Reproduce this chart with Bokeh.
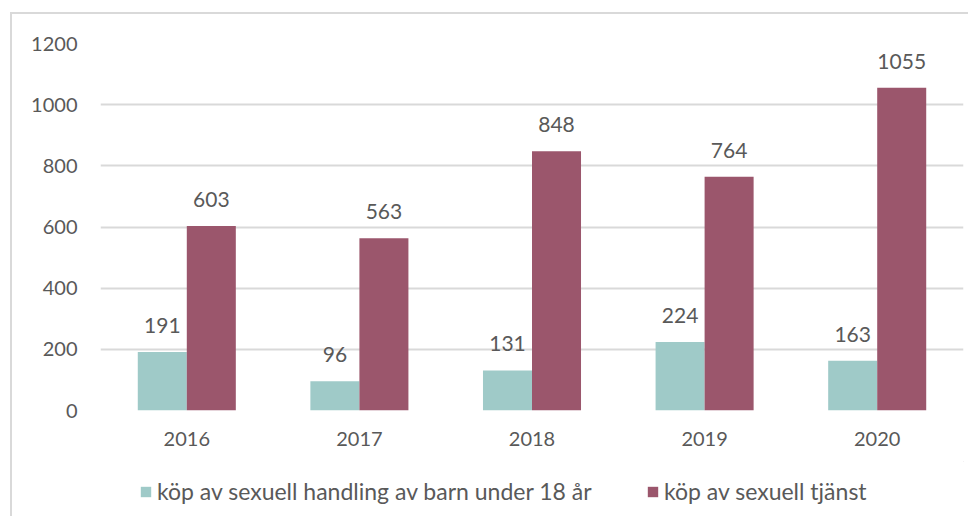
from bokeh.plotting import figure
from bokeh.models import ColumnDataSource, FactorRange, LabelSet, Legend, LegendItem, Range1d
from bokeh.core.properties import value
from bokeh.layouts import column
from bokeh.transform import dodge
from bokeh.embed import file_html
from bokeh.resources import INLINE

years = ["2016", "2017", "2018", "2019", "2020"]
barn = [191, 96, 131, 224, 163]
tjanst = [603, 563, 848, 764, 1055]
series_names = ["köp av sexuell handling av barn under 18 år", "köp av sexuell tjänst"]
y_ticks = [0, 200, 400, 600, 800, 1000, 1200]

TEAL = "#9fcac8"
MAROON = "#9b566c"
TXT = "#595959"
FONT = "Lato"

src = ColumnDataSource(data=dict(year=years, barn=barn, tjanst=tjanst,
                                 barn_lbl=[str(v) for v in barn],
                                 tjanst_lbl=[str(v) for v in tjanst]))

p = figure(x_range=FactorRange(*years), y_range=Range1d(0, 1200),
           width=956, height=447, output_backend="svg", toolbar_location=None,
           min_border_left=88, min_border_right=5, min_border_top=29, min_border_bottom=51)

p.vbar(x=dodge("year", -0.142, range=p.x_range), top="barn", width=0.284,
       source=src, fill_color=TEAL, line_color=None)
p.vbar(x=dodge("year", 0.142, range=p.x_range), top="tjanst", width=0.284,
       source=src, fill_color=MAROON, line_color=None)

for col, off in (("barn", -0.142), ("tjanst", 0.142)):
    p.add_layout(LabelSet(x=dodge("year", off, range=p.x_range), y=col, text=col + "_lbl",
                          source=src, y_offset=19, text_align="center", text_baseline="bottom",
                          text_font=value(FONT), text_font_size="21px", text_color=TXT))

p.yaxis.ticker = y_ticks
p.ygrid.ticker = y_ticks
p.xgrid.grid_line_color = None
p.ygrid.grid_line_color = "#d9d9d9"
p.ygrid.grid_line_width = 2
p.outline_line_color = None

for ax in (p.xaxis, p.yaxis):
    ax.axis_line_color = None
    ax.major_tick_line_color = None
    ax.minor_tick_line_color = None
    ax.major_label_text_font = FONT
    ax.major_label_text_font_size = "20px"
    ax.major_label_text_color = TXT
p.yaxis.major_label_standoff = 17
p.xaxis.major_label_standoff = 15

# legend row below the chart (its frame is aligned with the chart's frame)
pl = figure(width=956, height=55, output_backend="svg", toolbar_location=None,
            x_range=Range1d(0, 1), y_range=Range1d(0, 1),
            x_axis_location=None, y_axis_location=None,
            min_border_left=0, min_border_right=0, min_border_top=0, min_border_bottom=0)
pl.grid.grid_line_color = None
pl.outline_line_color = None
hidden = ColumnDataSource(data=dict(x=[5], top=[5], bottom=[4]))
g1 = pl.vbar(x="x", top="top", bottom="bottom", width=0.1, source=hidden, fill_color=TEAL, line_color=None)
g2 = pl.vbar(x="x", top="top", bottom="bottom", width=0.1, source=hidden, fill_color=MAROON, line_color=None)
for name, g, loc in ((series_names[0], g1, (39, 11)), (series_names[1], g2, (546, 11))):
    pl.add_layout(Legend(items=[LegendItem(label=name, renderers=[g])],
                         orientation="horizontal", location=loc,
                         label_text_font=FONT, label_text_font_size="23px", label_text_color=TXT,
                         glyph_width=13, glyph_height=13, label_standoff=5,
                         border_line_color=None, background_fill_alpha=0,
                         margin=0, padding=0), "center")

layout = column(p, pl, spacing=0, margin=(12, 0, 0, 10),
                styles={"border-left": "2px solid #d9d9d9", "border-top": "2px solid #d9d9d9"})

open("out.html", "w").write(file_html(layout, INLINE))
